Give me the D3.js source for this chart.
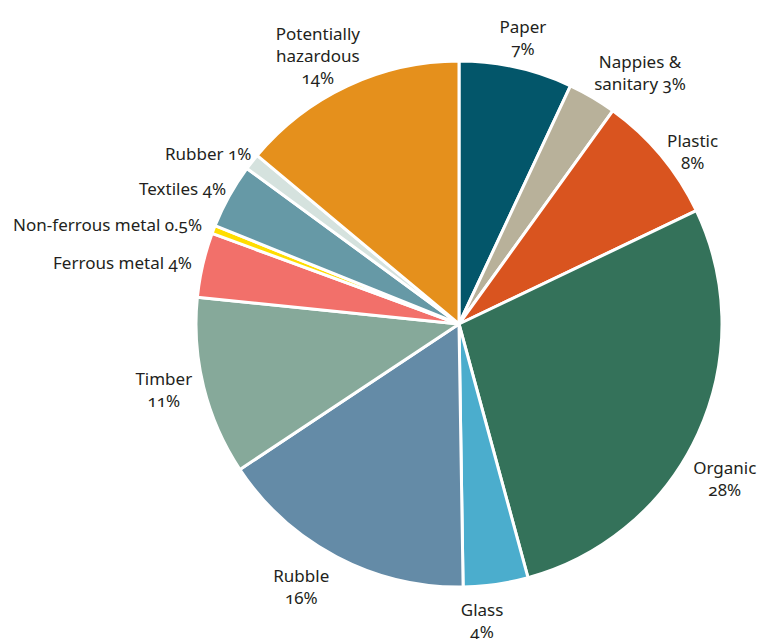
<!DOCTYPE html>
<html>
<head>
<meta charset="utf-8">
<script src="https://cdn.jsdelivr.net/npm/d3@7"></script>
<style>
  html, body { margin: 0; padding: 0; background: #ffffff; }
  svg text {
    font-family: "Noto Sans", "Open Sans", sans-serif;
    font-size: 17px;
    fill: #231f20;
    font-variant-numeric: oldstyle-nums;
  }
</style>
</head>
<body>
<svg id="chart" width="760" height="639"></svg>
<script>
// Waste composition, share of total (%)
const categories = [
  "Paper", "Nappies & sanitary", "Plastic", "Organic", "Glass", "Rubble",
  "Timber", "Ferrous metal", "Non-ferrous metal", "Textiles", "Rubber",
  "Potentially hazardous"
];
const shares = [7, 3, 8, 28, 4, 16, 11, 4, 0.5, 4, 1, 14];
const shareLabels = ["7%", "3%", "8%", "28%", "4%", "16%", "11%", "4%", "0.5%", "4%", "1%", "14%"];
const sliceColors = [
  "#03566a", "#b8b19a", "#d9541f", "#34725a", "#4badcd", "#648ba7",
  "#86a99a", "#f2706a", "#ffdd00", "#6699a6", "#d5e2de", "#e5901c"
];

// Label text lines for each slice
const labelLines = [
  ["Paper", "7%"],
  ["Nappies &", "sanitary 3%"],
  ["Plastic", "8%"],
  ["Organic", "28%"],
  ["Glass", "4%"],
  ["Rubble", "16%"],
  ["Timber", "11%"],
  ["Ferrous metal 4%"],
  ["Non-ferrous metal 0.5%"],
  ["Textiles 4%"],
  ["Rubber 1%"],
  ["Potentially", "hazardous", "14%"]
];

// Label layout: radius from centre, anchor, and a small nudge
const labelLayout = {
  "Paper":                 { r: 290, anchor: "middle", dx: 1,   dy: -3 },
  "Nappies & sanitary":    { r: 300, anchor: "middle", dx: 29,  dy: 8 },
  "Plastic":               { r: 290, anchor: "middle", dx: 11,  dy: 14 },
  "Organic":               { r: 300, anchor: "middle", dx: -7,  dy: 30 },
  "Glass":                 { r: 300, anchor: "middle", dx: -19, dy: 0 },
  "Rubble":                { r: 300, anchor: "middle", dx: -18, dy: -2 },
  "Timber":                { r: 300, anchor: "middle", dx: -4,  dy: -6 },
  "Ferrous metal":         { r: 270, anchor: "end",    dx: -4,  dy: 0 },
  "Non-ferrous metal":     { r: 270, anchor: "end",    dx: -5,  dy: -2 },
  "Textiles":              { r: 270, anchor: "end",    dx: 3,   dy: -4 },
  "Rubber":                { r: 270, anchor: "end",    dx: 5,   dy: -4 },
  "Potentially hazardous": { r: 300, anchor: "middle", dx: -14, dy: 4 }
};

const cx = 459, cy = 324, radius = 263, lineHeight = 22;

const data = categories.map((c, i) => ({
  category: c, value: shares[i], label: shareLabels[i],
  color: sliceColors[i], lines: labelLines[i]
}));

const svg = d3.select("#chart");
const g = svg.append("g").attr("transform", `translate(${cx},${cy})`);

const pie = d3.pie().value(d => d.value).sort(null);
const arc = d3.arc().innerRadius(0).outerRadius(radius);
const arcs = pie(data);

g.selectAll("path.slice")
  .data(arcs)
  .join("path")
  .attr("class", "slice")
  .attr("d", arc)
  .attr("fill", d => d.data.color)
  .attr("stroke", "#ffffff")
  .attr("stroke-width", 3)
  .attr("stroke-linejoin", "round");

g.selectAll("text.label")
  .data(arcs)
  .join("text")
  .attr("class", "label")
  .attr("text-anchor", d => labelLayout[d.data.category].anchor)
  .each(function(d) {
    const L = labelLayout[d.data.category];
    const mid = (d.startAngle + d.endAngle) / 2;
    const x = Math.sin(mid) * L.r + L.dx;
    const y = -Math.cos(mid) * L.r + L.dy;
    const n = d.data.lines.length;
    const firstBaseline = y - (n - 1) * lineHeight / 2 + 6;
    d3.select(this).selectAll("tspan")
      .data(d.data.lines)
      .join("tspan")
      .attr("x", x)
      .attr("y", (t, i) => firstBaseline + i * lineHeight)
      .text(t => t);
  });
</script>
</body>
</html>
